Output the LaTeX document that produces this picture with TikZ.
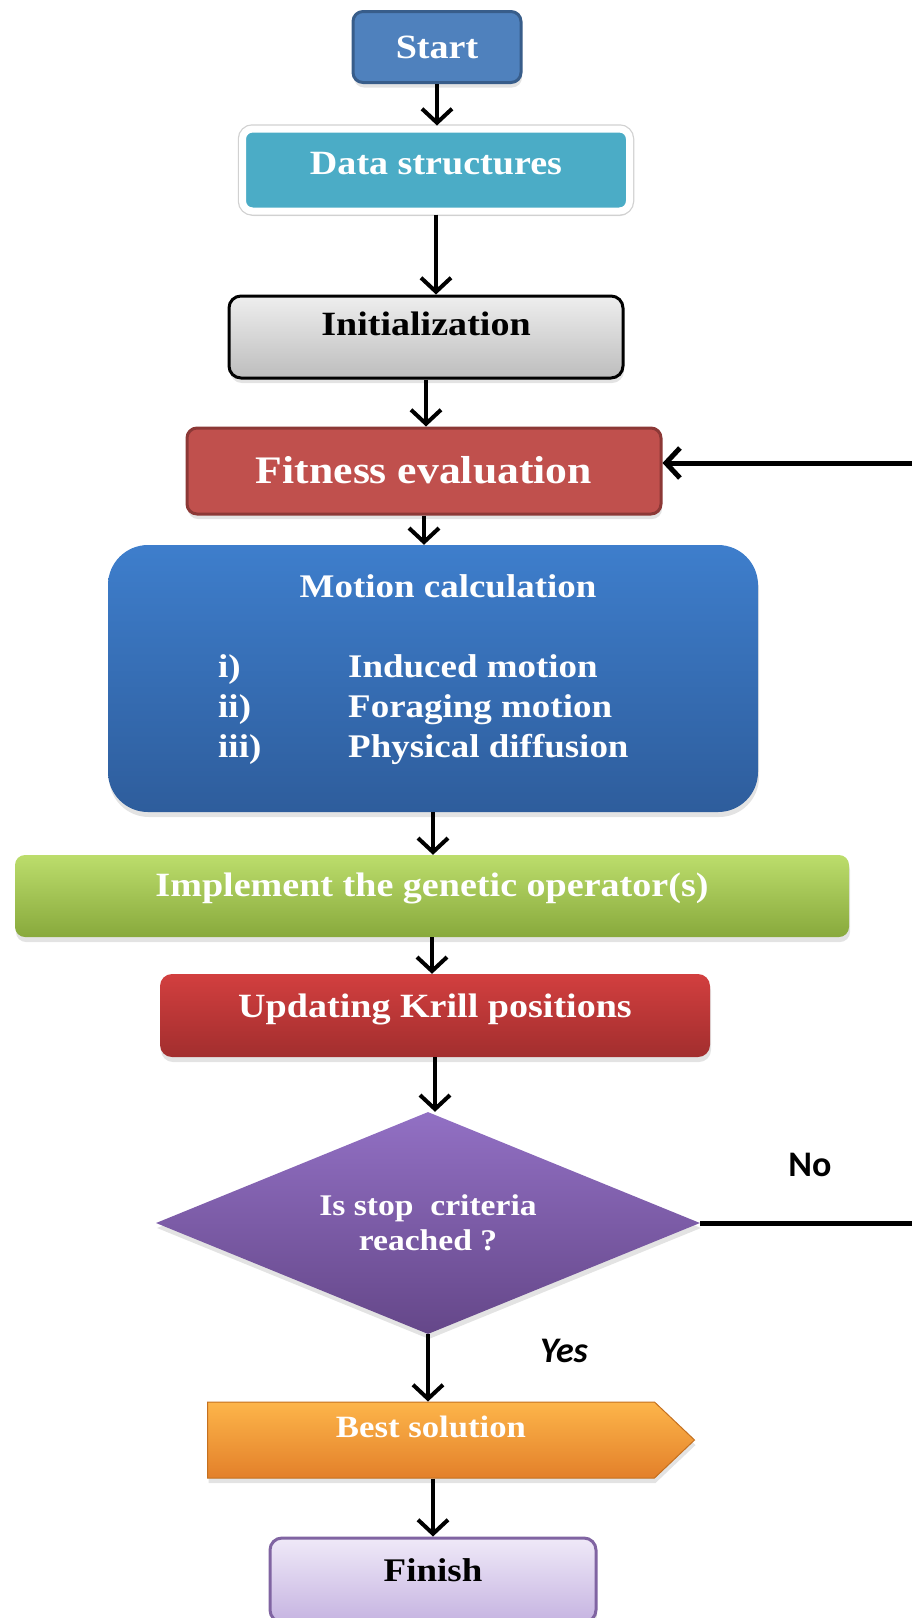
\documentclass[tikz,border=0pt]{standalone}
\usepackage{fontspec}
\setmainfont{Liberation Serif}[FakeStretch=1.12]
\newfontfamily\calfont{Carlito}
\usetikzlibrary{shapes.geometric,shapes.symbols,arrows.meta,shadows,calc}
\definecolor{startfill}{HTML}{4F81BD}
\definecolor{startline}{HTML}{385D8A}
\definecolor{datafill}{HTML}{4BACC6}
\definecolor{inittop}{HTML}{EEEEEE}
\definecolor{initbot}{HTML}{BDBDBD}
\definecolor{fitfill}{HTML}{C0504D}
\definecolor{fitline}{HTML}{8C3836}
\definecolor{mottop}{HTML}{3E7ECC}
\definecolor{motbot}{HTML}{2E5D9C}
\definecolor{impltop}{HTML}{BCDD6C}
\definecolor{implbot}{HTML}{88A93C}
\definecolor{updtop}{HTML}{D23F3F}
\definecolor{updbot}{HTML}{A22E2E}
\definecolor{dectop}{HTML}{9270C4}
\definecolor{decbot}{HTML}{654789}
\definecolor{besttop}{HTML}{FDB54A}
\definecolor{bestbot}{HTML}{E3802A}
\definecolor{bestline}{HTML}{C47020}
\definecolor{fintop}{HTML}{EFE9F8}
\definecolor{finbot}{HTML}{C6B4E1}
\definecolor{finline}{HTML}{8064A2}

\begin{document}
\begin{tikzpicture}[x=1pt,y=-1pt,
    box/.style={rounded corners=10pt, inner sep=0pt, text=white,
      font=\fontsize{34}{38}\selectfont\bfseries},
    lift/.style={text height=22pt, text depth=#1},
    arr/.style={line width=4pt, -{Straight Barb[length=14pt,width=30pt]}},
    softshadow/.style={drop shadow={shadow xshift=1pt, shadow yshift=-5pt, opacity=0.22}}]
  \useasboundingbox (0,0) rectangle (912,1618);

  % boxes of the chart
  \node[box, softshadow, fill=startfill, draw=startline, line width=3pt,
    minimum width=168pt, minimum height=71pt, lift=0pt] (start) at (437,47) {Start};
  \node[box, softshadow, fill=datafill, draw=white, line width=7pt,
    preaction={draw=black!18, line width=9.5pt},
    minimum width=387pt, minimum height=82pt, lift=14pt] (data) at (436,170) {Data structures};
  \node[box, softshadow, top color=inittop, bottom color=initbot, draw=black, line width=3pt,
    rounded corners=12pt, text=black, minimum width=394pt, minimum height=82pt, lift=26pt]
    (init) at (426,337) {Initialization};
  \node[box, softshadow, fill=fitfill, draw=fitline, line width=3pt,
    font=\fontsize{39}{42}\selectfont\bfseries, text height=26pt, text depth=2pt,
    minimum width=474pt, minimum height=86pt] (fit) at (424,471) {Fitness evaluation};
  \node[box, softshadow, top color=mottop, bottom color=motbot, rounded corners=40pt,
    minimum width=650pt, minimum height=267pt] (mot) at (433,678.5) {};
  \node[box, softshadow, top color=impltop, bottom color=implbot,
    minimum width=834pt, minimum height=82pt, lift=21pt] (impl) at (432,896)
    {Implement the genetic operator(s)};
  \node[box, softshadow, top color=updtop, bottom color=updbot, rounded corners=12pt,
    minimum width=550pt, minimum height=83pt, lift=19pt] (upd) at (435,1015.5)
    {Updating Krill positions};
  \node[diamond, softshadow, top color=dectop, bottom color=decbot, aspect=2.45, inner sep=0pt,
    minimum width=544pt, minimum height=222pt, text=white, align=center,
    font=\fontsize{30}{35}\selectfont\bfseries] (dec) at (428,1223) {Is stop\ \ criteria\\reached ?};
  \node[signal, signal to=east, signal pointer angle=87, softshadow, inner sep=0pt,
    top color=besttop, bottom color=bestbot, draw=bestline, line width=1pt, text=white,
    font=\fontsize{31}{34}\selectfont\bfseries, text height=20pt, text depth=25pt,
    minimum width=487pt, minimum height=76pt] (best) at (431,1440) {Best solution};
  \node[box, softshadow, top color=fintop, bottom color=finbot, draw=finline, line width=3pt,
    rounded corners=12pt, text=black, font=\fontsize{33}{36}\selectfont\bfseries,
    minimum width=326pt, minimum height=84pt, lift=20pt] (fin) at (433,1580) {Finish};

  % text of the motion box
  \node[anchor=base, text=white, font=\fontsize{33}{36}\selectfont\bfseries]
    (mtitle) at (448,597) {Motion calculation};
  \foreach \r/\t [count=\k] in {i)/Induced motion, ii)/Foraging motion, iii)/Physical diffusion}{
    \node[anchor=base west, inner sep=0pt, text=white, font=\fontsize{33}{36}\selectfont\bfseries]
      (num\k) at (218,{637+40*\k}) {\r};
    \node[anchor=base west, inner sep=0pt, text=white, font=\fontsize{33}{36}\selectfont\bfseries]
      (item\k) at (348,{637+40*\k}) {\t};
  }

  % connectors
  \draw[arr] (start) -- (start |- data.north);
  \draw[arr] (data) -- (data |- init.north);
  \draw[arr] (init) -- (init |- fit.north);
  \draw[arr] (fit) -- (fit |- mot.north);
  \draw[arr] (mot) -- (mot |- impl.north);
  \draw[arr] (impl) -- (impl |- upd.north);
  \draw[arr] (upd) -- (upd |- dec.north);
  \draw[arr] (dec) -- (dec |- best.north);
  \draw[arr] (fin |- best.south) -- (fin);
  \draw[arr, line width=5pt] (dec.east) -- ++(240,0) |- ([yshift=8pt]fit.east);

  \node[font=\calfont\fontsize{36}{40}\selectfont\bfseries] (no) at (810,1165) {No};
  \node[font=\calfont\fontsize{36}{40}\selectfont\bfseries\itshape] (yes) at (564,1351) {Yes};
\end{tikzpicture}
\end{document}
